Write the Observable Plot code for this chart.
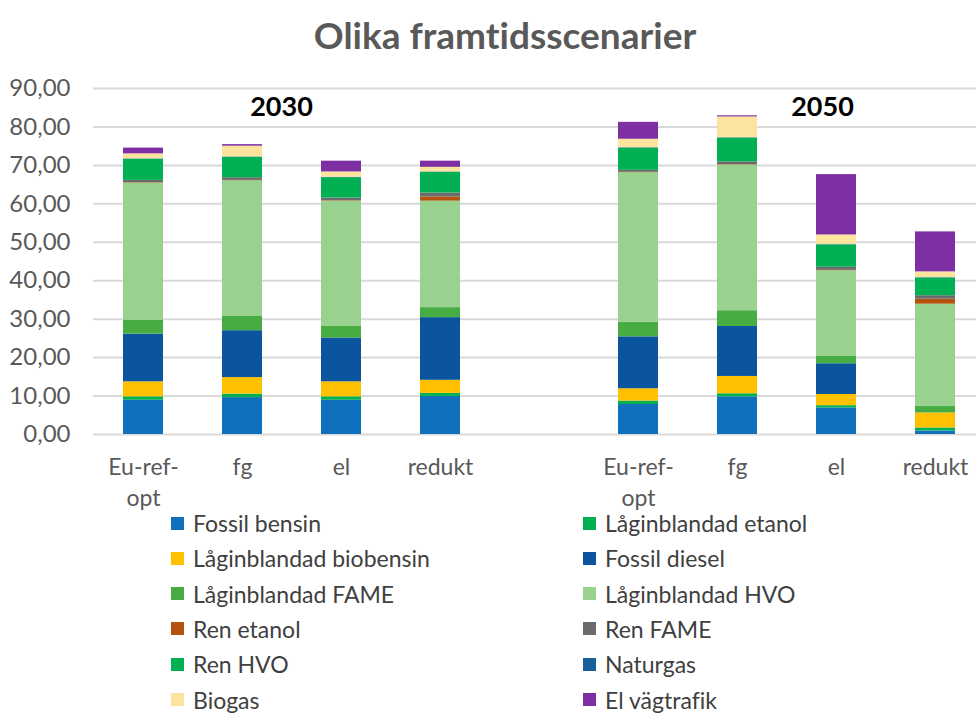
<!DOCTYPE html>
<html>
<head>
<meta charset="utf-8">
<script src="https://cdn.jsdelivr.net/npm/d3@7"></script>
<script src="https://cdn.jsdelivr.net/npm/@observablehq/plot@0.6"></script>
<style>
  body { margin: 0; background: #fff; width: 976px; height: 713px; overflow: hidden; font-family: Lato, "Open Sans", sans-serif; font-variant-ligatures: none; }
  #title { height: 70px; line-height: 70px; text-align: center; padding-left: 34px; font-size: 37px; font-weight: bold; color: #595959; }
  #legend { position: relative; height: 195px; }
  .item { position: absolute; display: flex; align-items: center; font-size: 23px; line-height: 26px; color: #404040; height: 26px; }
  .sw { width: 13px; height: 13px; margin-right: 9px; }
  svg text { font-variant-ligatures: none; }
</style>
</head>
<body>
<div id="title">Olika framtidsscenarier</div>
<div id="chart"></div>
<div id="legend"></div>
<script>
// ---- data ----
const years = ["2030", "2050"];
const scenarios = ["Eu-ref-opt", "fg", "el", "redukt"];
const fuels = [
  "Fossil bensin", "Låginblandad etanol", "Låginblandad biobensin", "Fossil diesel",
  "Låginblandad FAME", "Låginblandad HVO", "Ren etanol", "Ren FAME",
  "Ren HVO", "Naturgas", "Biogas", "El vägtrafik"
];
// values per fuel: 2030 (Eu-ref-opt, fg, el, redukt), 2050 (Eu-ref-opt, fg, el, redukt)
const fossilBensin   = [8.9, 9.6, 8.9, 9.9, 7.8, 9.8, 6.9, 0.9];
const lagEtanol      = [0.9, 0.9, 0.9, 0.8, 0.9, 0.8, 0.6, 0.8];
const lagBiobensin   = [3.9, 4.3, 3.9, 3.4, 3.2, 4.5, 2.9, 3.9];
const fossilDiesel   = [12.4, 12.2, 11.4, 16.3, 13.5, 13.0, 8.0, 0.0];
const lagFame        = [3.6, 3.7, 3.0, 2.6, 3.8, 4.1, 1.9, 1.8];
const lagHvo         = [35.7, 35.3, 32.6, 27.7, 38.9, 37.9, 22.3, 26.5];
const renEtanol      = [0.1, 0.1, 0.1, 1.1, 0.1, 0.1, 0.1, 1.3];
const renFame        = [0.6, 0.7, 0.7, 1.0, 0.5, 0.7, 0.8, 0.9];
const renHvo         = [5.5, 5.3, 5.3, 5.4, 5.8, 6.2, 5.8, 4.6];
const naturgas       = [0.1, 0.1, 0.1, 0.1, 0.1, 0.1, 0.1, 0.1];
const biogas         = [1.3, 2.8, 1.4, 1.2, 2.2, 5.4, 2.5, 1.5];
const elVagtrafik    = [1.5, 0.4, 2.8, 1.6, 4.4, 0.3, 15.7, 10.4];
const yTicks = [0, 10, 20, 30, 40, 50, 60, 70, 80, 90];

const series = [fossilBensin, lagEtanol, lagBiobensin, fossilDiesel, lagFame, lagHvo,
                renEtanol, renFame, renHvo, naturgas, biogas, elVagtrafik];
const colors = ["#0F70BD", "#00B050", "#FFC000", "#0B559F", "#47AD42", "#99D18F",
                "#B4520F", "#6B6B6B", "#00B052", "#17609A", "#FDE49E", "#7E2FA3"];

// ---- build table ----
const keys = [];
years.forEach((yr, i) => {
  scenarios.forEach(s => keys.push(yr + "|" + s));
  if (i === 0) keys.push("gap");
});
const barKeys = keys.filter(k => k !== "gap");
const rows = [];
fuels.forEach((f, fi) => {
  barKeys.forEach((k, bi) => rows.push({key: k, fuel: f, value: series[fi][bi]}));
});
const fmt = d => d3.format(".2f")(d).replace(".", ",");
const font = 'Lato, "Open Sans", sans-serif';

const chart = Plot.plot({
  width: 976,
  height: 448,
  marginLeft: 93,
  marginRight: -8,
  marginTop: 18,
  marginBottom: 84,
  style: {fontFamily: font, background: "#fff", overflow: "hidden"},
  x: {domain: keys, paddingInner: 0.6, paddingOuter: 0.3, label: null},
  y: {domain: [0, 90], label: null},
  color: {domain: fuels, range: colors},
  marks: [
    Plot.gridY(yTicks, {stroke: "#D9D9D9", strokeOpacity: 1, strokeWidth: 2}),
    Plot.barY(rows, {x: "key", y: "value", fill: "fuel"}),
    Plot.axisY(yTicks, {tickSize: 0, tickPadding: 23, tickFormat: fmt, fontSize: 24, fill: "#595959", label: null}),
    Plot.axisX({tickSize: 0, tickPadding: 18, fontSize: 23, fill: "#595959", lineHeight: 1.35, label: null,
      tickFormat: d => d === "gap" ? "" : (d.split("|")[1] === "Eu-ref-opt" ? "Eu-ref-\nopt" : d.split("|")[1])}),
    Plot.text([{key: "2030|fg", y: 85, text: "2030"}], {x: "key", y: "y", text: "text", dx: 39, fontSize: 27, fontWeight: "bold", fill: "#000"}),
    Plot.text([{key: "2050|el", y: 85, text: "2050"}], {x: "key", y: "y", text: "text", dx: -14, fontSize: 27, fontWeight: "bold", fill: "#000"})
  ]
});
document.getElementById("chart").appendChild(chart);

// ---- legend ----
const legend = document.getElementById("legend");
fuels.forEach((f, i) => {
  const col = i % 2, row = Math.floor(i / 2);
  const el = document.createElement("div");
  el.className = "item";
  el.style.left = (col === 0 ? 171 : 583) + "px";
  el.style.top = (row * 35.3 - 8) + "px";
  el.innerHTML = `<span class="sw" style="background:${colors[i]}"></span><span>${f}</span>`;
  legend.appendChild(el);
});
</script>
</body>
</html>
